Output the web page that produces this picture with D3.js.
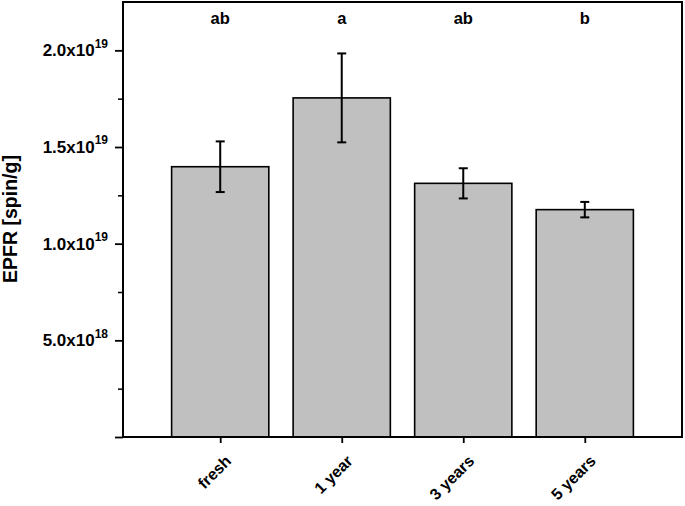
<!DOCTYPE html>
<html>
<head>
<meta charset="utf-8">
<script src="https://cdn.jsdelivr.net/npm/d3@7"></script>
<style>
  html, body { margin: 0; padding: 0; background: #fff; }
  svg { display: block; font-family: "Liberation Sans", Arial, sans-serif; }
</style>
</head>
<body>
<svg id="chart" width="685" height="506"></svg>
<script>
// ---- data ----
const categories = ["fresh", "1 year", "3 years", "5 years"];
const means = [1.398e19, 1.754e19, 1.312e19, 1.176e19];
const errors = [0.131e19, 0.230e19, 0.078e19, 0.040e19];
const letters = ["ab", "a", "ab", "b"];
const yMajorTicks = [0, 5e18, 1e19, 1.5e19, 2e19];
const yMinorTicks = [2.5e18, 7.5e18, 1.25e19, 1.75e19];
const yTickMantissa = ["", "5.0x10", "1.0x10", "1.5x10", "2.0x10"];
const yTickExponent = ["", "18", "19", "19", "19"];
const yTitle = "EPFR [spin/g]";

// ---- layout ----
const mLeft = 123, mRight = 682, mTop = 2, mBottom = 437;
const svg = d3.select("#chart");

const x = d3.scaleLinear().domain([0.2, 4.8]).range([mLeft, mRight]);
const y = d3.scaleLinear().domain([0, 2.25e19]).range([mBottom, mTop]);
const barW = 0.8;

const rows = categories.map((c, i) => ({ c, i: i + 1, m: means[i], e: errors[i], l: letters[i] }));

// bars
svg.append("g").selectAll("rect").data(rows).join("rect")
  .attr("x", d => x(d.i - barW / 2))
  .attr("width", d => x(d.i + barW / 2) - x(d.i - barW / 2))
  .attr("y", d => y(d.m))
  .attr("height", d => y(0) - y(d.m))
  .attr("fill", "#c0c0c0")
  .attr("stroke", "#000")
  .attr("stroke-width", 1.6);

// error bars
const eg = svg.append("g").attr("stroke", "#000").attr("stroke-width", 2);
rows.forEach(d => {
  const cx = x(d.i);
  eg.append("line").attr("x1", cx).attr("x2", cx).attr("y1", y(d.m + d.e)).attr("y2", y(d.m - d.e));
  [d.m + d.e, d.m - d.e].forEach(v => {
    eg.append("line").attr("x1", cx - 4.5).attr("x2", cx + 4.5).attr("y1", y(v)).attr("y2", y(v));
  });
});

// significance letters
svg.append("g").selectAll("text").data(rows).join("text")
  .attr("x", d => x(d.i))
  .attr("y", 23.5)
  .attr("text-anchor", "middle")
  .attr("font-weight", "bold")
  .attr("font-size", 16.5)
  .text(d => d.l);

// frame
svg.append("rect")
  .attr("x", mLeft).attr("y", mTop)
  .attr("width", mRight - mLeft).attr("height", mBottom - mTop)
  .attr("fill", "none").attr("stroke", "#000").attr("stroke-width", 2);

// y axis major
const yAxis = d3.axisLeft(y).tickValues(yMajorTicks).tickSize(8).tickFormat("");
const yg = svg.append("g").attr("transform", `translate(${mLeft},0)`).call(yAxis);
yg.select(".domain").remove();
yg.selectAll(".tick line").attr("stroke", "#000").attr("stroke-width", 1.8);

// y axis minor
const yMinor = d3.axisLeft(y).tickValues(yMinorTicks).tickSize(5).tickFormat("");
const ymg = svg.append("g").attr("transform", `translate(${mLeft},0)`).call(yMinor);
ymg.select(".domain").remove();
ymg.selectAll(".tick line").attr("stroke", "#000").attr("stroke-width", 1.5);

// y tick labels with superscripts
const labG = svg.append("g");
yMajorTicks.forEach((v, i) => {
  if (!yTickMantissa[i]) return;
  const t = labG.append("text")
    .attr("x", 108)
    .attr("y", y(v) + 6)
    .attr("text-anchor", "end")
    .attr("font-weight", "bold")
    .attr("font-size", 17);
  t.append("tspan").text(yTickMantissa[i]);
  t.append("tspan").attr("font-size", 12).attr("dy", -8.8).text(yTickExponent[i]);
});

// x axis ticks
const xAxis = d3.axisBottom(x).tickValues(rows.map(d => d.i)).tickSize(6).tickFormat("");
const xg = svg.append("g").attr("transform", `translate(0,${mBottom})`).call(xAxis);
xg.select(".domain").remove();
xg.selectAll(".tick line").attr("stroke", "#000").attr("stroke-width", 1.8);

// x labels rotated
svg.append("g").selectAll("text").data(rows).join("text")
  .attr("transform", d => `translate(${x(d.i) + 12},462) rotate(-45)`)
  .attr("text-anchor", "end")
  .attr("font-weight", "bold")
  .attr("font-size", 16)
  .text(d => d.c);

// y title
svg.append("text")
  .attr("transform", `translate(17,219) rotate(-90)`)
  .attr("text-anchor", "middle")
  .attr("font-weight", "bold")
  .attr("font-size", 19.5)
  .text(yTitle);
</script>
</body>
</html>
